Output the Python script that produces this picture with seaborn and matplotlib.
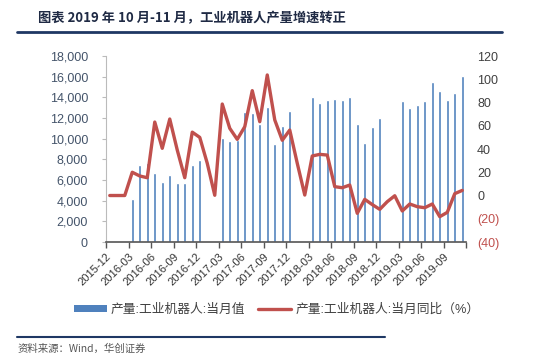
import numpy as np
import pandas as pd
import seaborn as sns
import matplotlib.pyplot as plt
from matplotlib.lines import Line2D
from matplotlib.patches import Patch

# monthly data 2015-12 .. 2019-11
months = pd.period_range("2015-12", "2019-11", freq="M").strftime("%Y-%m").tolist()

# 产量:工业机器人:当月值 (台), NaN where not published
output = [np.nan, np.nan, np.nan,
          4200, 7500, 7600, 6700, 5800, 6500, 5700, 5700, 7500, 7900,
          np.nan, np.nan,
          10100, 9800, 9850, 12600, 12450, 11400, 13100, 9460, 11200, 12700,
          np.nan, np.nan,
          14070, 13500, 13700, 13800, 13700, 14070, 11450, 9580, 11130, 11970,
          np.nan, np.nan,
          13680, 12940, 13300, 13680, 15500, 14600, 13750, 14400, 16100]

# 产量:工业机器人:当月同比 (%)
yoy = [0, 0, 0,
       20.0, 16.8, 15.3, 63.2, 40.6, 65.8, 39.1, 15.3, 54.5, 50.0,
       27.7, 0.2,
       78.7, 57.8, 48.3, 59.2, 90.2, 63.5, 103.7, 65.0, 47.5, 56.3,
       27.7, 0.4,
       34.0, 35.4, 34.8, 7.6, 6.7, 9.0, -15.3, -3.3, -7.8, -11.9,
       -5.3, -0.2,
       -13.3, -7.3, -9.6, -10.5, -7.3, -18.2, -14.5, 1.6, 4.4]

df = pd.DataFrame({"month": months, "output": output, "yoy": yoy, "pos": np.arange(len(months))})

BLUE = "#4F81BD"
RED = "#C0504D"

sns.set_style("white")
plt.rcParams["font.family"] = ["Liberation Sans", "Noto Sans CJK SC", "DejaVu Sans"]

fig = plt.figure(figsize=(5.53, 3.63), dpi=100)
ax = fig.add_axes([0.1917, 0.3333, 0.651, 0.5124])

sns.barplot(data=df, x="month", y="output", order=months, color=BLUE,
            width=0.4, saturation=1, ax=ax)
ax.set_xlim(-0.5, len(months) - 0.5)
ax.set_ylim(0, 18000)
ax.set_yticks(np.arange(0, 18001, 2000))
ax.set_yticklabels([f"{v:,}" for v in range(0, 18001, 2000)], fontsize=9, color="#44546A")
tick_pos = np.arange(-0.5, len(months), 3)
ax.set_xticks(tick_pos)
ax.set_xticklabels([months[int(p + 0.5)] if p + 0.5 < 46 else "" for p in tick_pos],
                   rotation=45, ha="right", va="top", rotation_mode="anchor",
                   fontsize=8, color="#333333")
ax.tick_params(axis="x", length=4, width=1, color="#555555", pad=3, bottom=True)
ax.tick_params(axis="y", length=3, width=0.8, color="#BBBBBB", left=True, pad=10)
ax.set_xlabel("")
ax.set_ylabel("")
for s in ["top", "right"]:
    ax.spines[s].set_visible(False)
ax.spines["left"].set_color("#BBBBBB")
ax.spines["bottom"].set_color("#555555")
ax.spines["bottom"].set_linewidth(1.2)

ax2 = ax.twinx()
sns.lineplot(data=df, x="pos", y="yoy", color=RED, linewidth=2.4, ax=ax2)
ax2.set_ylim(-40, 120)
ax2.set_yticks(np.arange(-40, 121, 20))
labels2 = []
for v in range(-40, 121, 20):
    labels2.append(f"({abs(v)})" if v < 0 else str(v))
ax2.set_yticklabels(labels2, fontsize=9)
for lab, v in zip(ax2.get_yticklabels(), range(-40, 121, 20)):
    lab.set_color(RED if v < 0 else "#404040")
ax2.tick_params(axis="y", length=0, pad=8)
ax2.set_xlabel("")
ax2.set_ylabel("")
for s in ["top", "right", "left", "bottom"]:
    ax2.spines[s].set_visible(False)
ax2.set_xlim(-0.5, len(months) - 0.5)

# legend
handles = [Patch(facecolor=BLUE, edgecolor="none"),
           Line2D([0], [0], color=RED, linewidth=2.4)]
fig.legend(handles, ["产量:工业机器人:当月值", "产量:工业机器人:当月同比（%）"],
           loc="center", bbox_to_anchor=(0.5, 0.146), ncol=2, frameon=False,
           fontsize=9.2, handlelength=2.6, handleheight=0.5, columnspacing=1.0,
           handletextpad=0.3, labelcolor="#404040")

# header
fig.text(0.068, 0.95, "图表 2019 年 10 月-11 月，工业机器人产量增速转正",
         fontsize=9.5, fontweight="bold", color="#1F2A44", va="center", ha="left",
         family=["Noto Sans CJK SC", "DejaVu Sans"])
fig.add_artist(Line2D([0.031, 0.908], [0.912, 0.912], color="#1F3864", linewidth=2))

# footer
fig.add_artist(Line2D([0.031, 0.697], [0.072, 0.072], color="#1F3864", linewidth=1.5))
fig.text(0.031, 0.04, "资料来源：Wind，华创证券", fontsize=7.5, style="italic",
         color="#555555", va="center", ha="left",
         family=["Noto Sans CJK SC", "DejaVu Sans"])

fig.savefig("out.png", dpi=100)
